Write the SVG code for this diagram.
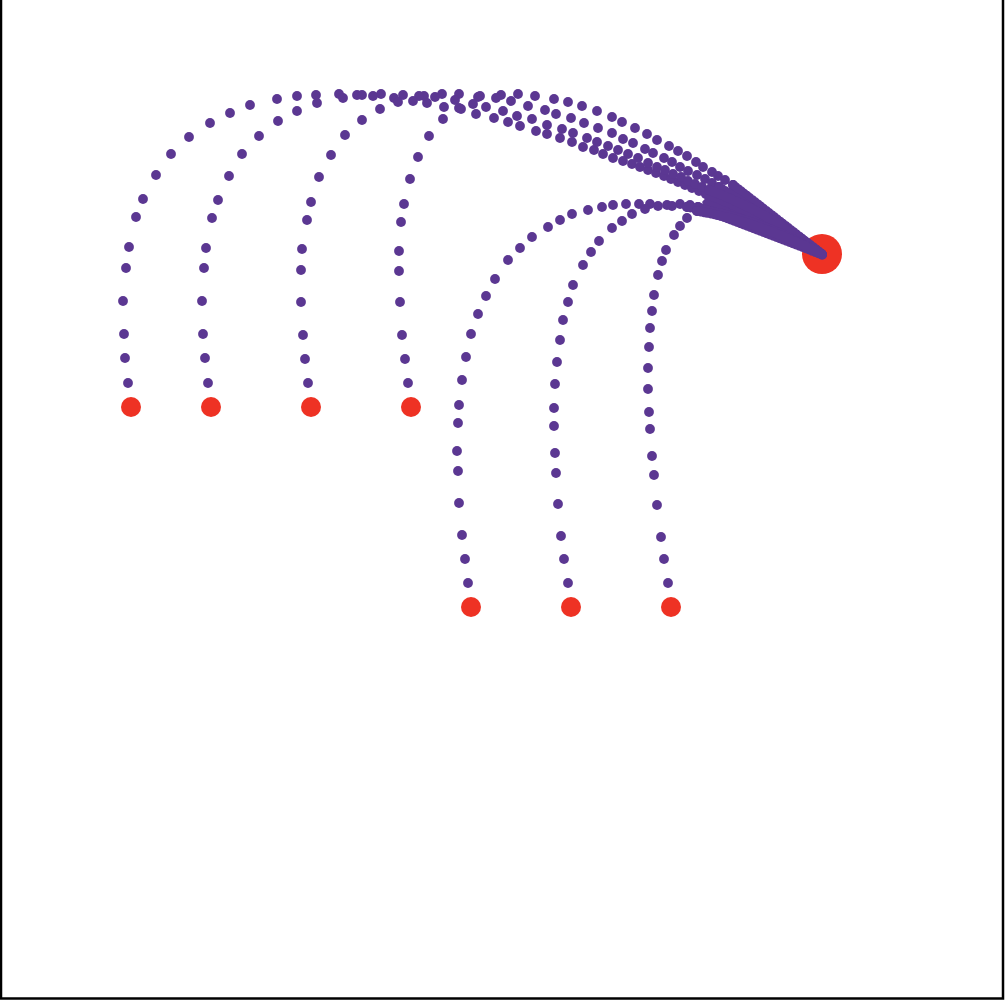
<svg xmlns="http://www.w3.org/2000/svg" width="1008" height="1000" viewBox="0 0 1008 1000">
<style>
.bg{fill:#fff}
.frame{fill:none;stroke:#000;stroke-width:2.5}
.node{fill:#EE3224}
.edge circle{fill:#5B3792}
.tail{fill:none;stroke:#5B3792;stroke-width:9.8;stroke-linecap:round;stroke-dasharray:0 3.5}
.wedge{fill:#5B3792}
</style>
<rect class="bg" x="0" y="0" width="1008" height="1000"/>
<rect class="frame" x="1" y="-5" width="1002" height="1003.5"/>
<g id="nodes">
<g id="root"><circle class="node" cx="822" cy="254" r="20"/></g>
<g id="leaf1"><circle class="node" cx="131" cy="407" r="10"/></g>
<g id="leaf2"><circle class="node" cx="211" cy="407" r="10"/></g>
<g id="leaf3"><circle class="node" cx="311" cy="407" r="10"/></g>
<g id="leaf4"><circle class="node" cx="411" cy="407" r="10"/></g>
<g id="leaf5"><circle class="node" cx="471" cy="607" r="10"/></g>
<g id="leaf6"><circle class="node" cx="571" cy="607" r="10"/></g>
<g id="leaf7"><circle class="node" cx="671" cy="607" r="10"/></g>
</g>
<g id="connectors">
<path class="wedge" d="M736,187 L818,248 L820,258 L708,212 L702,202 L712,191 Z"/>
<g id="edge1" class="edge">
<circle cx="128" cy="383" r="4.9"/><circle cx="125" cy="358" r="4.9"/><circle cx="124" cy="334" r="4.9"/><circle cx="123" cy="301" r="4.9"/><circle cx="126" cy="268" r="4.9"/><circle cx="129" cy="247" r="4.9"/><circle cx="136" cy="217" r="4.9"/><circle cx="143" cy="199" r="4.9"/><circle cx="156" cy="175" r="4.9"/><circle cx="171" cy="154" r="4.9"/><circle cx="189" cy="137" r="4.9"/><circle cx="210" cy="123" r="4.9"/><circle cx="230" cy="113" r="4.9"/><circle cx="250" cy="105" r="4.9"/><circle cx="277" cy="99" r="4.9"/><circle cx="297" cy="96" r="4.9"/><circle cx="316" cy="95" r="4.9"/><circle cx="339" cy="94" r="4.9"/><circle cx="357" cy="95" r="4.9"/><circle cx="381" cy="94" r="4.9"/><circle cx="403" cy="95" r="4.9"/><circle cx="424" cy="96" r="4.9"/><circle cx="442" cy="94" r="4.9"/><circle cx="459" cy="94" r="4.9"/><circle cx="478" cy="97" r="4.9"/><circle cx="501" cy="95" r="4.9"/><circle cx="518" cy="94" r="4.9"/><circle cx="535" cy="96" r="4.9"/><circle cx="554" cy="99" r="4.9"/><circle cx="568" cy="102" r="4.9"/><circle cx="582" cy="106" r="4.9"/><circle cx="597" cy="111" r="4.9"/><circle cx="612" cy="117" r="4.9"/><circle cx="622" cy="122" r="4.9"/><circle cx="635" cy="128" r="4.9"/><circle cx="647" cy="134" r="4.9"/><circle cx="657" cy="140" r="4.9"/><circle cx="669" cy="146" r="4.9"/><circle cx="678" cy="151" r="4.9"/><circle cx="687" cy="156" r="4.9"/><circle cx="696" cy="162" r="4.9"/><circle cx="703" cy="167" r="4.9"/><circle cx="712" cy="172" r="4.9"/><circle cx="718" cy="176" r="4.9"/><circle cx="725" cy="180" r="4.9"/><circle cx="733" cy="185" r="4.9"/>
<path class="tail" d="M733,185 L823,255"/>
</g>
<g id="edge2" class="edge">
<circle cx="208" cy="383" r="4.9"/><circle cx="205" cy="358" r="4.9"/><circle cx="203" cy="334" r="4.9"/><circle cx="202" cy="301" r="4.9"/><circle cx="204" cy="268" r="4.9"/><circle cx="206" cy="248" r="4.9"/><circle cx="212" cy="218" r="4.9"/><circle cx="218" cy="200" r="4.9"/><circle cx="229" cy="176" r="4.9"/><circle cx="242" cy="154" r="4.9"/><circle cx="259" cy="136" r="4.9"/><circle cx="278" cy="121" r="4.9"/><circle cx="297" cy="111" r="4.9"/><circle cx="317" cy="103" r="4.9"/><circle cx="343" cy="98" r="4.9"/><circle cx="362" cy="95" r="4.9"/><circle cx="373" cy="96" r="4.9"/><circle cx="394" cy="98" r="4.9"/><circle cx="419" cy="96" r="4.9"/><circle cx="435" cy="97" r="4.9"/><circle cx="455" cy="100" r="4.9"/><circle cx="480" cy="96" r="4.9"/><circle cx="496" cy="98" r="4.9"/><circle cx="511" cy="101" r="4.9"/><circle cx="528" cy="106" r="4.9"/><circle cx="545" cy="110" r="4.9"/><circle cx="556" cy="114" r="4.9"/><circle cx="571" cy="118" r="4.9"/><circle cx="584" cy="123" r="4.9"/><circle cx="598" cy="128" r="4.9"/><circle cx="612" cy="133" r="4.9"/><circle cx="623" cy="139" r="4.9"/><circle cx="633" cy="143" r="4.9"/><circle cx="645" cy="149" r="4.9"/><circle cx="653" cy="153" r="4.9"/><circle cx="664" cy="158" r="4.9"/><circle cx="672" cy="162" r="4.9"/><circle cx="680" cy="167" r="4.9"/><circle cx="688" cy="171" r="4.9"/><circle cx="697" cy="175" r="4.9"/><circle cx="705" cy="179" r="4.9"/><circle cx="712" cy="183" r="4.9"/><circle cx="719" cy="187" r="4.9"/>
<path class="tail" d="M719,187 L823,255"/>
</g>
<g id="edge3" class="edge">
<circle cx="308" cy="383" r="4.9"/><circle cx="305" cy="359" r="4.9"/><circle cx="303" cy="335" r="4.9"/><circle cx="301" cy="302" r="4.9"/><circle cx="301" cy="270" r="4.9"/><circle cx="302" cy="249" r="4.9"/><circle cx="307" cy="220" r="4.9"/><circle cx="311" cy="202" r="4.9"/><circle cx="319" cy="177" r="4.9"/><circle cx="331" cy="155" r="4.9"/><circle cx="345" cy="135" r="4.9"/><circle cx="362" cy="120" r="4.9"/><circle cx="380" cy="109" r="4.9"/><circle cx="398" cy="102" r="4.9"/><circle cx="413" cy="101" r="4.9"/><circle cx="427" cy="103" r="4.9"/><circle cx="444" cy="107" r="4.9"/><circle cx="461" cy="109" r="4.9"/><circle cx="476" cy="114" r="4.9"/><circle cx="494" cy="118" r="4.9"/><circle cx="508" cy="122" r="4.9"/><circle cx="520" cy="126" r="4.9"/><circle cx="536" cy="131" r="4.9"/><circle cx="547" cy="134" r="4.9"/><circle cx="560" cy="138" r="4.9"/><circle cx="572" cy="142" r="4.9"/><circle cx="583" cy="147" r="4.9"/><circle cx="594" cy="150" r="4.9"/><circle cx="603" cy="154" r="4.9"/><circle cx="613" cy="158" r="4.9"/><circle cx="623" cy="161" r="4.9"/><circle cx="632" cy="164" r="4.9"/><circle cx="640" cy="167" r="4.9"/><circle cx="648" cy="170" r="4.9"/><circle cx="656" cy="173" r="4.9"/><circle cx="664" cy="176" r="4.9"/><circle cx="671" cy="179" r="4.9"/><circle cx="678" cy="182" r="4.9"/><circle cx="685" cy="185" r="4.9"/><circle cx="692" cy="188" r="4.9"/><circle cx="699" cy="191" r="4.9"/><circle cx="706" cy="194" r="4.9"/>
<path class="tail" d="M706,194 Q770,218 823,255"/>
</g>
<g id="edge4" class="edge">
<circle cx="408" cy="383" r="4.9"/><circle cx="405" cy="359" r="4.9"/><circle cx="402" cy="335" r="4.9"/><circle cx="400" cy="302" r="4.9"/><circle cx="399" cy="271" r="4.9"/><circle cx="399" cy="251" r="4.9"/><circle cx="401" cy="222" r="4.9"/><circle cx="404" cy="204" r="4.9"/><circle cx="410" cy="179" r="4.9"/><circle cx="418" cy="157" r="4.9"/><circle cx="429" cy="136" r="4.9"/><circle cx="443" cy="119" r="4.9"/><circle cx="459" cy="108" r="4.9"/><circle cx="473" cy="104" r="4.9"/><circle cx="486" cy="107" r="4.9"/><circle cx="503" cy="111" r="4.9"/><circle cx="517" cy="116" r="4.9"/><circle cx="532" cy="119" r="4.9"/><circle cx="547" cy="125" r="4.9"/><circle cx="562" cy="129" r="4.9"/><circle cx="573" cy="133" r="4.9"/><circle cx="587" cy="138" r="4.9"/><circle cx="597" cy="142" r="4.9"/><circle cx="608" cy="146" r="4.9"/><circle cx="618" cy="150" r="4.9"/><circle cx="628" cy="154" r="4.9"/><circle cx="638" cy="158" r="4.9"/><circle cx="648" cy="163" r="4.9"/><circle cx="657" cy="167" r="4.9"/><circle cx="665" cy="170" r="4.9"/><circle cx="673" cy="174" r="4.9"/><circle cx="681" cy="177" r="4.9"/><circle cx="688" cy="181" r="4.9"/><circle cx="695" cy="184" r="4.9"/><circle cx="702" cy="187" r="4.9"/><circle cx="709" cy="190" r="4.9"/>
<path class="tail" d="M709,190 Q772,214 823,255"/>
</g>
<g id="edge5" class="edge">
<circle cx="468" cy="583" r="4.9"/><circle cx="465" cy="559" r="4.9"/><circle cx="462" cy="535" r="4.9"/><circle cx="459" cy="503" r="4.9"/><circle cx="458" cy="471" r="4.9"/><circle cx="457" cy="451" r="4.9"/><circle cx="458" cy="423" r="4.9"/><circle cx="459" cy="405" r="4.9"/><circle cx="462" cy="380" r="4.9"/><circle cx="466" cy="357" r="4.9"/><circle cx="471" cy="334" r="4.9"/><circle cx="478" cy="314" r="4.9"/><circle cx="486" cy="296" r="4.9"/><circle cx="495" cy="279" r="4.9"/><circle cx="508" cy="260" r="4.9"/><circle cx="520" cy="248" r="4.9"/><circle cx="532" cy="237" r="4.9"/><circle cx="548" cy="227" r="4.9"/><circle cx="560" cy="220" r="4.9"/><circle cx="572" cy="214" r="4.9"/><circle cx="588" cy="210" r="4.9"/><circle cx="602" cy="207" r="4.9"/><circle cx="613" cy="205" r="4.9"/><circle cx="626" cy="204" r="4.9"/><circle cx="639" cy="204" r="4.9"/><circle cx="650" cy="204" r="4.9"/><circle cx="667" cy="205" r="4.9"/><circle cx="680" cy="204" r="4.9"/><circle cx="690" cy="205" r="4.9"/><circle cx="698" cy="207" r="4.9"/>
<path class="tail" d="M698,207 L823,255"/>
</g>
<g id="edge6" class="edge">
<circle cx="568" cy="583" r="4.9"/><circle cx="564" cy="559" r="4.9"/><circle cx="561" cy="536" r="4.9"/><circle cx="558" cy="504" r="4.9"/><circle cx="556" cy="473" r="4.9"/><circle cx="555" cy="453" r="4.9"/><circle cx="554" cy="426" r="4.9"/><circle cx="554" cy="408" r="4.9"/><circle cx="555" cy="384" r="4.9"/><circle cx="557" cy="362" r="4.9"/><circle cx="560" cy="340" r="4.9"/><circle cx="563" cy="320" r="4.9"/><circle cx="568" cy="302" r="4.9"/><circle cx="573" cy="285" r="4.9"/><circle cx="583" cy="265" r="4.9"/><circle cx="591" cy="252" r="4.9"/><circle cx="599" cy="241" r="4.9"/><circle cx="612" cy="228" r="4.9"/><circle cx="622" cy="221" r="4.9"/><circle cx="632" cy="214" r="4.9"/><circle cx="645" cy="209" r="4.9"/><circle cx="658" cy="206" r="4.9"/><circle cx="672" cy="206" r="4.9"/><circle cx="687" cy="207" r="4.9"/>
<path class="tail" d="M687,207 Q760,218 823,255"/>
</g>
<g id="edge7" class="edge">
<circle cx="668" cy="583" r="4.9"/><circle cx="664" cy="559" r="4.9"/><circle cx="661" cy="537" r="4.9"/><circle cx="657" cy="505" r="4.9"/><circle cx="654" cy="475" r="4.9"/><circle cx="652" cy="456" r="4.9"/><circle cx="650" cy="429" r="4.9"/><circle cx="649" cy="412" r="4.9"/><circle cx="648" cy="389" r="4.9"/><circle cx="648" cy="368" r="4.9"/><circle cx="649" cy="347" r="4.9"/><circle cx="650" cy="328" r="4.9"/><circle cx="652" cy="311" r="4.9"/><circle cx="654" cy="295" r="4.9"/><circle cx="658" cy="275" r="4.9"/><circle cx="662" cy="261" r="4.9"/><circle cx="666" cy="250" r="4.9"/><circle cx="674" cy="235" r="4.9"/><circle cx="680" cy="226" r="4.9"/><circle cx="687" cy="218" r="4.9"/><circle cx="697" cy="211" r="4.9"/>
<path class="tail" d="M697,211 Q760,222 823,255"/>
</g>
</g>
</svg>
